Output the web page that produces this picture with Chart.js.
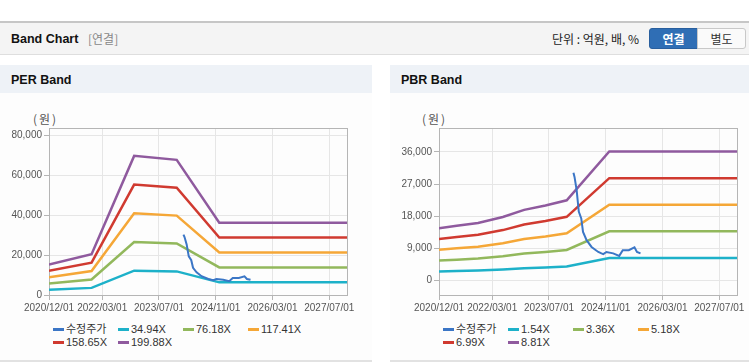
<!DOCTYPE html>
<html>
<head>
<meta charset="utf-8">
<script src="https://cdn.jsdelivr.net/npm/chart.js@4.4.1/dist/chart.umd.min.js"></script>
<style>
  body { margin: 0; background: #fff; font-family: 'Liberation Sans', 'Noto Sans CJK KR', sans-serif; }
  #page { position: relative; width: 749px; height: 364px; overflow: hidden; }
  .hdr { position: absolute; left: 0; top: 21px; width: 749px; height: 31px; background: #f4f4f4;
         border-top: 2px solid #c6c6c6; border-bottom: 1px solid #dedede; }
  .hdr .ttl { position: absolute; left: 11px; top: 9px; font: bold 12.5px 'Liberation Sans', sans-serif; color: #111; }
  .hdr .sub { position: absolute; left: 88px; top: 9px; font-size: 12px; color: #888; font-family: 'Noto Sans CJK KR', sans-serif; line-height: 14px; }
  .hdr .unit { position: absolute; left: 552px; top: 8px; font-size: 12px; color: #222; font-family: 'Noto Sans CJK KR', sans-serif; line-height: 15px; }
  .btn { position: absolute; top: 5px; height: 19px; width: 47px; text-align: center; font-size: 12px; line-height: 19px;
         font-family: 'Noto Sans CJK KR', sans-serif; }
  .btn.on { left: 649px; background: #2f6eb5; color: #fff; font-weight: bold; border-radius: 3px 0 0 3px; border: 1px solid #295f9e; }
  .btn.off { left: 697px; background: #fafafa; color: #333; border: 1px solid #c8c8c8; border-radius: 0 3px 3px 0; }
  .panel { position: absolute; top: 65px; height: 295px; border-bottom: 2px solid #e2e2e2; background: #fdfdfd; }
  .panel .ph { position: absolute; left: 0; top: 0; right: 0; height: 28px; background: #eef2f7; }
  .panel .ph span { position: absolute; left: 11px; top: 8px; font: bold 12.5px 'Liberation Sans', sans-serif; color: #111; }
  .unitlbl { position: absolute; top: 45px; font-size: 12px; color: #555; letter-spacing: 2px; font-family: 'Noto Sans CJK KR', sans-serif; }
  .cv { position: absolute; top: 35px; height: 215px; }
  .legend { position: absolute; top: 258px; display: grid; grid-template-columns: 65px 65px 65px 65px; row-gap: 0; }
  .legend div { height: 13.3px; line-height: 13px; font-size: 11px; color: #333; white-space: nowrap; }
  .legend i { display: inline-block; width: 11px; height: 3px; margin-right: 2px; vertical-align: middle; position: relative; top: -1px; }
</style>
</head>
<body>
<div id="page">
  <div class="hdr">
    <div class="ttl">Band Chart</div>
    <div class="sub">[연결]</div>
    <div class="unit">단위 : 억원, 배, %</div>
    <div class="btn on">연결</div>
    <div class="btn off">별도</div>
  </div>
  <div class="panel" style="left:0;width:372px;">
    <div class="ph"><span>PER Band</span></div>
    <div class="unitlbl" style="left:33px;">(원)</div>
    <div class="cv" style="left:0;width:370px;"><canvas id="per-chart"></canvas></div>
    <div class="legend" id="per-legend" style="left:53px;"></div>
  </div>
  <div class="panel" style="left:390px;width:359px;">
    <div class="ph"><span>PBR Band</span></div>
    <div class="unitlbl" style="left:32px;">(원)</div>
    <div class="cv" style="left:0;width:359px;"><canvas id="pbr-chart"></canvas></div>
    <div class="legend" id="pbr-legend" style="left:53px;"></div>
  </div>
</div>
<script>
// x values are months counted from 2020/12
const tickMonths = [0, 15, 31, 47, 63, 79];
const tickLabels = ['2020/12/01', '2022/03/01', '2023/07/01', '2024/11/01', '2026/03/01', '2027/07/01'];

// 수정주가
const priceMonths = [37.9, 38.2, 38.8, 39.4, 40.1, 40.6, 41.6, 43.0, 44.9, 45.8, 46.3, 47.2, 49.1, 50.8, 51.8, 53.5, 55.1, 55.8, 56.8];
const priceValues = [30200, 29000, 25300, 19300, 17400, 13600, 11300, 9400, 8000, 7600, 7400, 8000, 7600, 6900, 8500, 8500, 9300, 8000, 7600];

// PER band
const perMonths = [0, 12, 24, 36, 48, 84];
const perLabels = ['34.94X', '76.18X', '117.41X', '158.65X', '199.88X'];
const per1 = [2650, 3560, 12160, 11810, 6320, 6320];
const per2 = [5790, 7770, 26510, 25750, 13790, 13790];
const per3 = [8920, 11980, 40860, 39690, 21250, 21250];
const per4 = [12060, 16180, 55210, 53620, 28720, 28720];
const per5 = [15190, 20390, 69560, 67560, 36180, 36180];
const perTicks = [0, 20000, 40000, 60000, 80000];

// PBR band
const pbrMonths = [0, 5, 11, 18, 24, 30, 36, 48, 84];
const pbrLabels = ['1.54X', '3.36X', '5.18X', '6.99X', '8.81X'];
const pbr1 = [2560, 2680, 2820, 3110, 3460, 3670, 3930, 6310, 6310];
const pbr2 = [5580, 5850, 6150, 6790, 7540, 8010, 8570, 13780, 13780];
const pbr3 = [8600, 9010, 9480, 10460, 11630, 12350, 13210, 21240, 21240];
const pbr4 = [11600, 12160, 12790, 14120, 15690, 16670, 17830, 28660, 28660];
const pbr5 = [14630, 15330, 16120, 17800, 19780, 21010, 22470, 36120, 36120];
const pbrTicks = [0, 9000, 18000, 27000, 36000];

const colors = ['#3b76c6', '#1db1c9', '#92b85c', '#f5a737', '#d03a30', '#8f5a9e'];

const plotBox = {
  id: 'plotBox',
  beforeDatasetsDraw(chart) {
    const { ctx, chartArea: a } = chart;
    ctx.save();
    ctx.strokeStyle = '#b5b5b5';
    ctx.lineWidth = 1;
    ctx.strokeRect(Math.round(a.left) + 0.5, Math.round(a.top) + 0.5, Math.round(a.right - a.left), Math.round(a.bottom - a.top));
    ctx.restore();
  }
};

function pts(xs, ys) {
  return xs.map((x, i) => ({ x: x, y: ys[i] }));
}

function makeChart(id, legendId, months, bands, labels, yMin, yMax, yTicks, padRight) {
  const datasets = [{
    label: '수정주가',
    data: pts(priceMonths, priceValues),
    borderColor: colors[0],
    backgroundColor: colors[0],
    borderWidth: 2,
    order: 0
  }];
  bands.forEach((b, i) => {
    datasets.push({
      label: labels[i],
      data: pts(months, b),
      borderColor: colors[i + 1],
      backgroundColor: colors[i + 1],
      borderWidth: 2.5,
      order: 1
    });
  });
  const tickFont = { family: "'Liberation Sans', sans-serif", size: 10 };
  const chart = new Chart(document.getElementById(id), {
    type: 'line',
    data: { datasets: datasets },
    options: {
      responsive: true,
      maintainAspectRatio: false,
      animation: false,
      layout: { padding: { top: 28, right: padRight, bottom: 0, left: 0 } },
      elements: { point: { radius: 0 }, line: { tension: 0 } },
      plugins: { legend: { display: false }, tooltip: { enabled: false } },
      scales: {
        x: {
          type: 'linear',
          min: 0,
          max: 84,
          afterBuildTicks: s => { s.ticks = tickMonths.map(v => ({ value: v })); },
          afterFit: s => { s.height = 20; },
          ticks: {
            autoSkip: false,
            maxRotation: 0,
            padding: 2,
            color: '#555',
            font: tickFont,
            callback: v => tickLabels[tickMonths.indexOf(v)]
          },
          grid: { color: '#e6e6e6', tickColor: '#b5b5b5', tickLength: 5 },
          border: { color: '#b5b5b5' }
        },
        y: {
          min: yMin,
          max: yMax,
          afterBuildTicks: s => { s.ticks = yTicks.map(v => ({ value: v })); },
          afterFit: s => { s.width = 49; },
          ticks: {
            padding: 2,
            color: '#555',
            font: tickFont,
            callback: v => v.toLocaleString('en-US')
          },
          grid: { color: '#e6e6e6', tickColor: '#b5b5b5', tickLength: 5 },
          border: { color: '#b5b5b5' }
        }
      }
    },
    plugins: [plotBox]
  });

  const leg = document.getElementById(legendId);
  chart.data.datasets.forEach(ds => {
    const item = document.createElement('div');
    const sw = document.createElement('i');
    sw.style.background = ds.borderColor;
    item.appendChild(sw);
    item.appendChild(document.createTextNode(ds.label));
    leg.appendChild(item);
  });
  return chart;
}

let perChart = makeChart('per-chart', 'per-legend', perMonths, [per1, per2, per3, per4, per5], perLabels, 0, 83500, perTicks, 23);
let pbrChart = makeChart('pbr-chart', 'pbr-legend', pbrMonths, [pbr1, pbr2, pbr3, pbr4, pbr5], pbrLabels, -4050, 42700, pbrTicks, 12);
</script>
</body>
</html>
